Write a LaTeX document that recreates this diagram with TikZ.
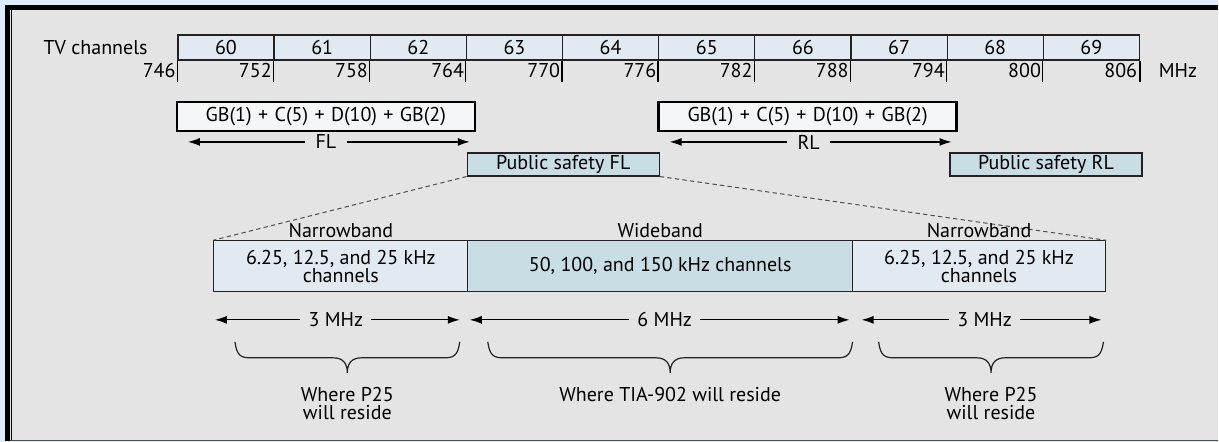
\documentclass[tikz,border=0pt]{standalone}
\usepackage{fontspec}
\setmainfont{PT Sans}
\usetikzlibrary{arrows.meta,positioning,calc}
\definecolor{frameblue}{HTML}{DDEBFD}
\definecolor{panel}{HTML}{E4E4E4}
\definecolor{cellblue}{HTML}{E2EAF1}
\definecolor{psblue}{HTML}{C8DDE4}
\definecolor{boxwhite}{HTML}{F5F6F8}
\definecolor{ink}{HTML}{222222}
\tikzset{cell/.style={draw=ink,fill=cellblue,minimum width=48.1pt,minimum height=12.5pt,inner sep=0pt,line width=0.6pt}, freq/.style={anchor=east,inner sep=0pt}, gbbox/.style={draw=black,fill=boxwhite,line width=1.2pt,minimum width=149pt,minimum height=14.5pt,inner sep=0pt}, psbox/.style={draw=ink,fill=psblue,line width=0.6pt,minimum width=96pt,minimum height=11.5pt,inner sep=0pt}, band/.style={draw=ink,line width=0.6pt,minimum height=25.5pt,inner sep=0pt,align=center}, dim/.style={-{Latex[length=6pt,width=4pt]},line width=0.6pt,draw=black}, dimlabel/.style={inner xsep=4pt,inner ysep=0pt}, zoomline/.style={draw=ink!80,line width=0.5pt,dash pattern=on 2.2pt off 1.6pt}, note/.style={align=center,inner sep=0pt}}
\newcommand{\pl}{\hspace{3.2pt}+\hspace{3.2pt}}
\newcommand{\spanbrace}[2]{%
  \pgfmathsetmacro\bmid{(#1+#2)/2}
  \draw[ink,line width=0.6pt] (#1,342) .. controls (#1+2,356) and (#1+6,358) .. (#1+16,358) -- (\bmid-14,358) .. controls (\bmid-4,358) and (\bmid,364) .. (\bmid,373) .. controls (\bmid,364) and (\bmid+4,358) .. (\bmid+14,358) -- (#2-16,358) .. controls (#2-6,358) and (#2-2,356) .. (#2,342);}

\begin{document}
\begin{tikzpicture}[x=0.5pt,y=-0.5pt,font=\fontsize{10}{9}\selectfont]
% frame and panel
\fill[frameblue] (0,0) rectangle (1219,442);
\fill[black] (5,5) rectangle (1219,441);
\fill[panel] (10,10) rectangle (1219,440);
\draw[line width=0.5pt] (12,10) -- (12,440);
\draw[gray!60!black,line width=0.6pt] (10,440.5) -- (1219,440.5);
\useasboundingbox (0,0) rectangle (1219,442);

% channel row
\node[anchor=east,inner sep=0pt] (tv) at (148,47.5) {TV channels};
\foreach \i in {0,...,9} {
  \pgfmathtruncatemacro\ch{60+\i}
  \node[cell] (ch\i) at (178+96.2*\i+48.1,47.5) {\ch};
  \draw[line width=0.6pt] (ch\i.south west) -- ++(0,21);
}
\draw[line width=0.6pt] (ch9.south east) -- ++(0,21);
\foreach \i in {0,...,10} {
  \pgfmathtruncatemacro\f{746+6*\i}
  \node[freq] (f\i) at (178+96.2*\i-2,71) {\f};
}
\node[anchor=west,inner sep=0pt] (mhz) at (1159,71) {MHz};

% duplex blocks
\node[gbbox] (gbfl) at (326,116.5) {GB(1)\pl C(5)\pl D(10)\pl GB(2)};
\node[gbbox] (gbrl) at (808,116.5) {GB(1)\pl C(5)\pl D(10)\pl GB(2)};
\coordinate (flL) at (188,142);
\coordinate (flR) at (470,142);
\coordinate (rlL) at (670,142);
\coordinate (rlR) at (952,142);
\node[dimlabel,inner xsep=5pt] (fl) at (326,142) {FL};
\node[dimlabel,inner xsep=5pt] (rl) at (809,142) {RL};
\draw[dim] (fl) -- (flL);
\draw[dim] (fl) -- (flR);
\draw[dim] (rl) -- (rlL);
\draw[dim] (rl) -- (rlR);
\node[psbox] (psfl) at (563.5,164.5) {Public safety FL};
\node[psbox] (psrl) at (1046.5,164.5) {Public safety RL};

% public safety FL detail
\node[band,fill=cellblue,minimum width=127pt] (nb1) at (341,266.5) {6.25, 12.5, and 25 kHz\\channels};
\node[band,fill=psblue,minimum width=192.5pt] (wb) at (660.5,266.5) {50, 100, and 150 kHz channels};
\node[band,fill=cellblue,minimum width=126.5pt] (nb3) at (979.5,266.5) {6.25, 12.5, and 25 kHz\\channels};
\draw[zoomline] (psfl.south west) -- (nb1.north west);
\draw[zoomline] (psfl.south east) -- (nb3.north east);
\node[above=1pt of nb1,inner sep=0pt] (nb1t) {Narrowband};
\node[above=1pt of wb,inner sep=0pt] (wbt) {Wideband};
\node[above=1pt of nb3,inner sep=0pt] (nb3t) {Narrowband};

% widths
\coordinate (w1L) at (215,320);
\coordinate (w1R) at (460,320);
\coordinate (w2L) at (470,320);
\coordinate (w2R) at (850,320);
\coordinate (w3L) at (862,320);
\coordinate (w3R) at (1102,320);
\node[dimlabel] (w1) at (336,320) {3 MHz};
\node[dimlabel] (w2) at (665,320) {6 MHz};
\node[dimlabel] (w3) at (985,320) {3 MHz};
\draw[dim] (w1) -- (w1L);
\draw[dim] (w1) -- (w1R);
\draw[dim] (w2) -- (w2L);
\draw[dim] (w2) -- (w2R);
\draw[dim] (w3) -- (w3L);
\draw[dim] (w3) -- (w3R);

% where the standards reside
\spanbrace{235}{460}
\spanbrace{488}{853}
\spanbrace{879}{1104}
\node[note] (p25a) at (347.5,404) {Where P25\\will reside};
\node[note] (tia) at (670.5,395) {Where TIA-902 will reside};
\node[note] (p25b) at (991.5,404) {Where P25\\will reside};
\end{tikzpicture}
\end{document}
